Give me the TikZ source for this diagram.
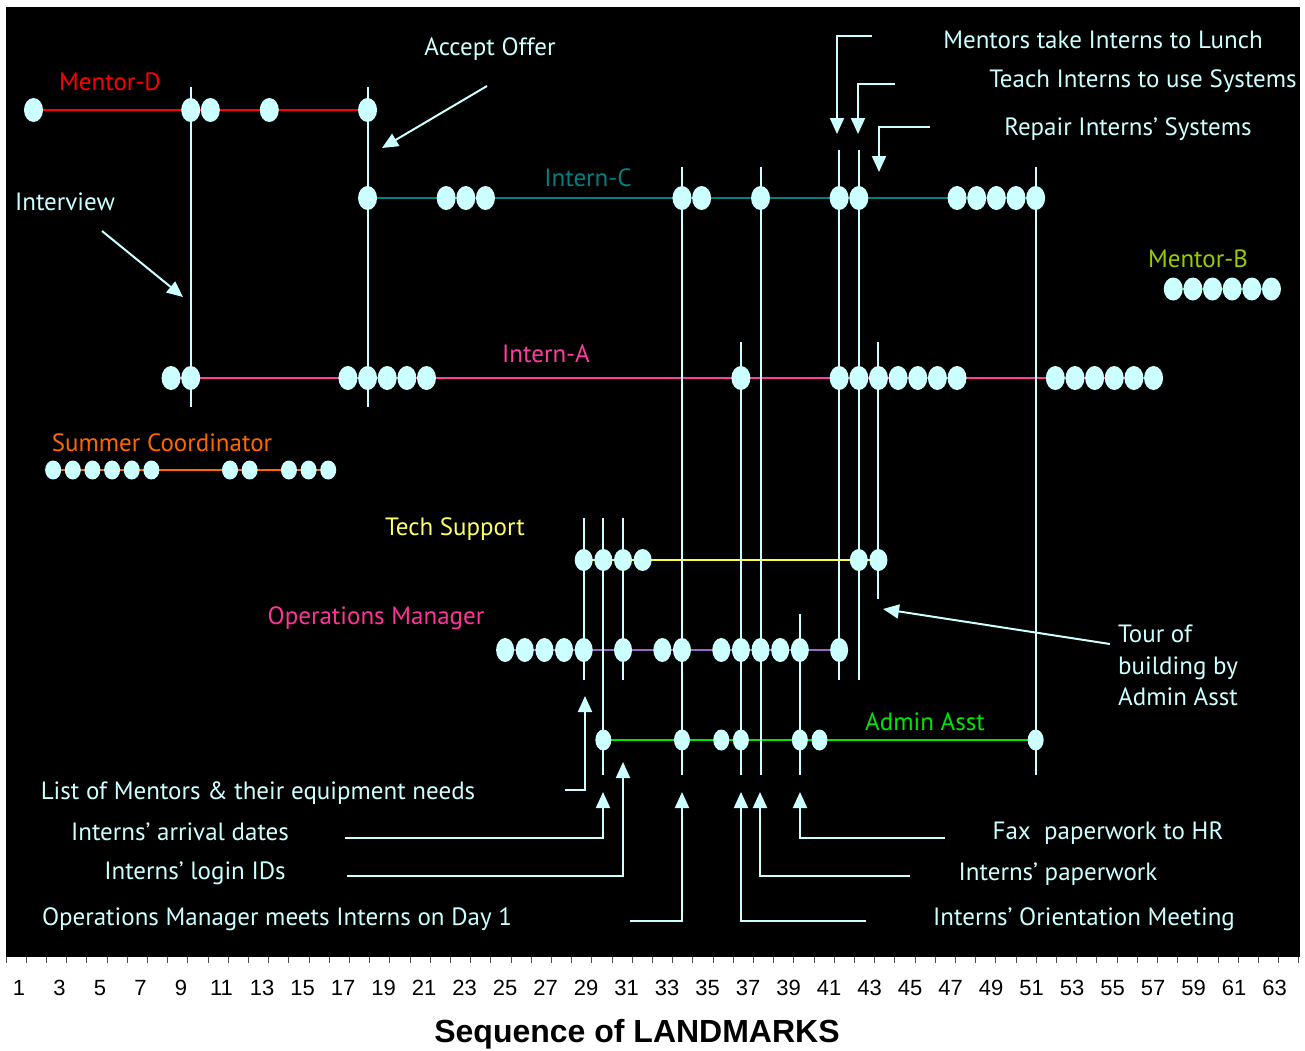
\documentclass[tikz,border=0pt]{standalone}
\usepackage{fontspec}
\usetikzlibrary{shapes.geometric,arrows.meta}
\newfontfamily\labfont{PT Sans}
\newfontfamily\axfont{Liberation Sans}
\definecolor{dotc}{RGB}{204,255,255}
\definecolor{mdred}{RGB}{255,0,0}
\definecolor{icteal}{RGB}{0,128,128}
\definecolor{iapink}{RGB}{255,60,160}
\definecolor{scorange}{RGB}{255,102,0}
\definecolor{mbtext}{RGB}{153,204,0}
\definecolor{mbline}{RGB}{0,204,0}
\definecolor{tstext}{RGB}{255,255,102}
\definecolor{tsline}{RGB}{255,255,51}
\definecolor{omtext}{RGB}{255,51,153}
\definecolor{omline}{RGB}{153,102,204}
\definecolor{aagreen}{RGB}{0,230,0}
\pgfdeclarelayer{back}
\pgfdeclarelayer{bg}
\pgfsetlayers{back,bg,main}
\begin{document}
\begin{tikzpicture}[x=1pt,y=-1pt,
  dot/.style={ellipse, fill=dotc, draw=none, inner sep=0pt, minimum width=19pt, minimum height=24pt},
  sdot/.style={dot, minimum width=16pt, minimum height=19pt},
  adot/.style={dot, minimum width=16pt, minimum height=21pt},
  row/.style={line width=2.5pt},
  vline/.style={draw=dotc, line width=2pt},
  ann/.style={draw=dotc, line width=2pt, -{Triangle[length=16pt,width=14pt]}},
  lab/.style={font=\labfont\fontsize{25}{30}\selectfont, inner sep=0pt, yshift=-1.5pt},
  note/.style={lab, text=dotc},
  axlab/.style={font=\axfont\fontsize{22}{26}\selectfont, inner sep=0pt}
]
\useasboundingbox (0,0) rectangle (1305,1050);
\begin{pgfonlayer}{back}
\fill[white] (0,0) rectangle (1305,1050);
\fill[black] (6,7) rectangle (1300,957);
\end{pgfonlayer}

\begin{scope}[x=19.65pt, shift={(33.5pt,0pt)}]
  % ellipses
  \foreach \k in {0,8,9,12,17} \node[dot] (md\k) at (\k,110) {};
  \foreach \k in {17,21,22,23,33,34,37,41,42,47,48,49,50,51} \node[dot] (ic\k) at (\k,198) {};
  \foreach \k in {58,...,63} \node[dot, minimum height=23pt] (mb\k) at (\k,289) {};
  \foreach \k in {7,8,16,17,18,19,20,36,41,42,43,44,45,46,47,52,53,54,55,56,57} \node[dot] (ia\k) at (\k,378) {};
  \foreach \k in {1,2,3,4,5,6,10,11,13,14,15} \node[sdot] (sc\k) at (\k,470) {};
  \foreach \k in {28,29,30,31,42,43} \node[dot, minimum width=18pt, minimum height=22pt] (ts\k) at (\k,560) {};
  \foreach \k in {24,25,26,27,28,30,32,33,35,36,37,38,39,41} \node[dot, minimum width=18pt] (om\k) at (\k,650) {};
  \foreach \k in {29,33,35,36,39,40,51} \node[adot] (aa\k) at (\k,740) {};

  % vertical line end points
  \foreach \k/\t/\b in {8/87/407, 17/87/407, 33/167/775, 37/167/775, 41/150/680, 42/150/680,
                        43/342/599, 51/167/775, 36/342/775, 28/518/680, 29/518/775, 30/518/680, 39/614/775}{
    \coordinate (vt\k) at (\k,\t);
    \coordinate (vb\k) at (\k,\b);
  }
\end{scope}

\begin{pgfonlayer}{bg}
  \draw[row, mdred] (md0.center) -- (md17.center);
  \draw[row, icteal] (ic17.center) -- (ic51.center);
  \draw[row, mbline] (mb58.center) -- (mb63.center);
  \draw[row, iapink] (ia7.center) -- (ia57.center);
  \draw[row, scorange] (sc1.center) -- (sc15.center);
  \draw[row, tsline] (ts28.center) -- (ts43.center);
  \draw[row, omline] (om24.center) -- (om41.center);
  \draw[row, aagreen] (aa29.center) -- (aa51.center);
  \foreach \k in {8,17,33,37,41,42,43,51,36,28,29,30,39}
    \draw[vline] (vt\k) -- (vb\k);
\end{pgfonlayer}

% row labels
\node[lab, text=mdred] (lmd) at (110,80) {Mentor-D};
\node[lab, text=icteal] (lic) at (588,176) {Intern-C};
\node[lab, text=mbtext] (lmb) at (1198,257) {Mentor-B};
\node[lab, text=iapink] (lia) at (546,352) {Intern-A};
\node[lab, text=scorange] (lsc) at (162,441) {Summer Coordinator};
\node[lab, text=tstext] (lts) at (455,528) {Tech Support};
\node[lab, text=omtext] (lom) at (376,617) {Operations Manager};
\node[lab, text=aagreen] (laa) at (925,720) {Admin Asst};

% annotation texts
\node[note] (tacc) at (490,48) {Accept Offer};
\node[note] (tint) at (65,200) {Interview};
\node[note] (tlun) at (1103,38) {Mentors take Interns to Lunch};
\node[note] (ttea) at (1143,80) {Teach Interns to use Systems};
\node[note] (trep) at (1128,128) {Repair Interns’ Systems};
\node[note, align=left, anchor=west, font=\labfont\fontsize{25}{31.5}\selectfont] (ttour) at (1118,664) {Tour of\\building by\\Admin Asst};
\node[note] (tlist) at (258,792) {List of Mentors \& their equipment needs};
\node[note] (tarr) at (180,830) {Interns’ arrival dates};
\node[note] (tlog) at (195,872) {Interns’ login IDs};
\node[note] (tops) at (277,918) {Operations Manager meets Interns on Day 1};
\node[note] (tfax) at (1108,832) {Fax\ \ paperwork to HR};
\node[note] (tpap) at (1058,873) {Interns’ paperwork};
\node[note] (tori) at (1084,918) {Interns’ Orientation Meeting};

% annotation connector end points
\coordinate (accS) at (487,86);   \coordinate (accE) at (382,148);
\coordinate (intS) at (102,231);  \coordinate (intE) at (183,297);
\coordinate (lunS) at (872,36);   \coordinate (lunE) at (837,134);
\coordinate (teaS) at (895,84);   \coordinate (teaE) at (858,134);
\coordinate (repS) at (930,127);  \coordinate (repE) at (879,172);
\coordinate (tourS) at (1110,644); \coordinate (tourE) at (883,609);
\coordinate (listS) at (565,790); \coordinate (listE) at (585,696);
\coordinate (arrS) at (345,838);  \coordinate (arrE) at (603,792);
\coordinate (logS) at (347,876);  \coordinate (logE) at (623,762);
\coordinate (opsS) at (630,921);  \coordinate (opsE) at (682,792);
\coordinate (faxS) at (945,838);  \coordinate (faxE) at (800,792);
\coordinate (papS) at (910,876);  \coordinate (papE) at (760,792);
\coordinate (oriS) at (866,921);  \coordinate (oriE) at (741,792);

\draw[ann] (accS) -- (accE);
\draw[ann] (intS) -- (intE);
\draw[ann] (tourS) -- (tourE);
\foreach \n in {lun,tea,rep,list,arr,log,ops,fax,pap,ori}
  \draw[ann] (\n S) -| (\n E);

% axis
\foreach \j in {0,...,64}
  \draw[black!70, line width=0.8pt] ({6+20.2*\j},957) -- ({6+20.2*\j},963);
\foreach \n in {1,3,...,63}
  \node[axlab] (ax\n) at ({19+20.25*(\n-1)},988) {\n};
\node[font=\axfont\bfseries\fontsize{32}{37}\selectfont, inner sep=0pt] (title) at (637,1034) {Sequence of LANDMARKS};
\end{tikzpicture}
\end{document}
